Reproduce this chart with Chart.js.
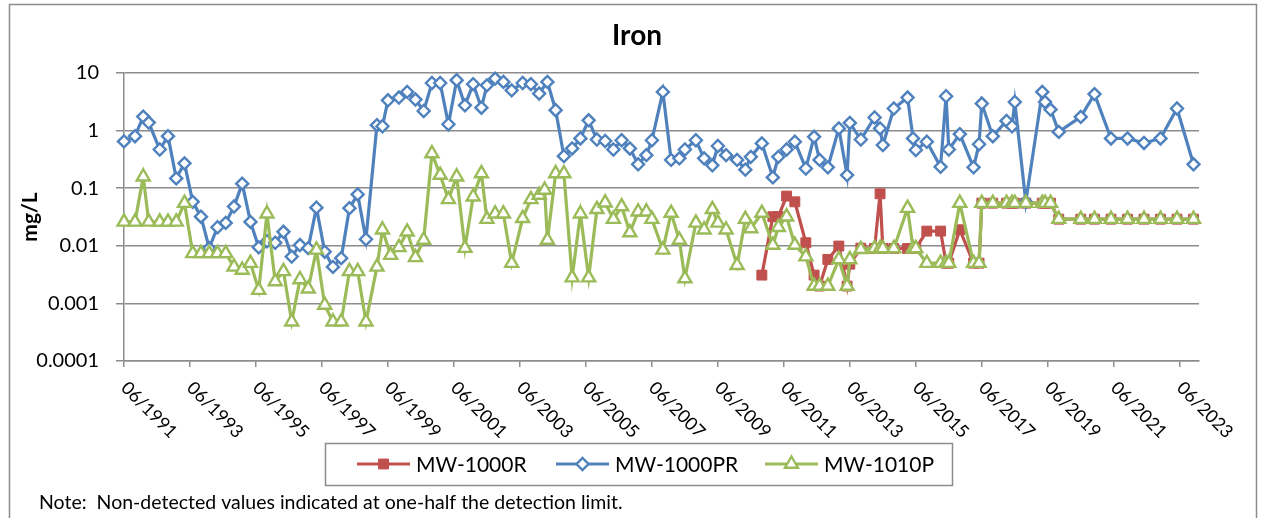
<!DOCTYPE html>
<html>
<head>
<meta charset="utf-8">
<title>Iron</title>
<script src="https://cdn.jsdelivr.net/npm/chart.js@4.4.1/dist/chart.umd.min.js"></script>
<style>
  html, body { margin: 0; padding: 0; background: #ffffff; overflow: hidden; }
  canvas { display: block; }
</style>
</head>
<body>
<canvas id="chart" width="1267" height="518"></canvas>
<script>
// ---- Text ----
const chartTitle = 'Iron';
const yAxisTitle = 'mg/L';
const noteText = 'Note:  Non-detected values indicated at one-half the detection limit.';
const seriesNames = ['MW-1000R', 'MW-1000PR', 'MW-1010P'];

// ---- Axis ticks ----
const yTickValues = [0.0001, 0.001, 0.01, 0.1, 1, 10];
const yTickLabels = ['0.0001', '0.001', '0.01', '0.1', '1', '10'];
const xTickYears = [1991, 1993, 1995, 1997, 1999, 2001, 2003, 2005, 2007, 2009, 2011, 2013, 2015, 2017, 2019, 2021, 2023];
const xTickLabels = ['06/1991', '06/1993', '06/1995', '06/1997', '06/1999', '06/2001', '06/2003', '06/2005', '06/2007',
  '06/2009', '06/2011', '06/2013', '06/2015', '06/2017', '06/2019', '06/2021', '06/2023'];

// ---- MW-1000R (mg/L) ----
const dates1000R = ['2010-10', '2011-02', '2011-04', '2011-07', '2011-10', '2012-02', '2012-05', '2012-07', '2012-10',
  '2013-02', '2013-05', '2013-06', '2013-10', '2014-03', '2014-05', '2014-06', '2014-10', '2015-03', '2015-05', '2015-06',
  '2015-10', '2016-03', '2016-05', '2016-06', '2016-10', '2017-03', '2017-05', '2017-06', '2017-10', '2018-03', '2018-05',
  '2018-06', '2018-10', '2019-04', '2019-05', '2019-07', '2019-10', '2020-06', '2020-11', '2021-05', '2021-11', '2022-05',
  '2022-11', '2023-05', '2023-11'];
const values1000R = [0.0031, 0.032, 0.032, 0.073, 0.058, 0.0113, 0.0031, 0.002, 0.0058,
  0.0099, 0.002, 0.0048, 0.0091, 0.009, 0.08, 0.009, 0.009, 0.009, 0.009, 0.009,
  0.018, 0.018, 0.005, 0.005, 0.019, 0.005, 0.005, 0.055, 0.055, 0.055, 0.055,
  0.055, 0.055, 0.055, 0.055, 0.055, 0.029, 0.029, 0.029, 0.029, 0.029, 0.029,
  0.029, 0.029, 0.029];

// ---- MW-1000PR (mg/L) ----
const dates1000PR = ['1991-06', '1991-10', '1992-01', '1992-03', '1992-07', '1992-10', '1993-01', '1993-04', '1993-07',
  '1993-10', '1994-01', '1994-04', '1994-07', '1994-10', '1995-01', '1995-04', '1995-07', '1995-10', '1996-01', '1996-04',
  '1996-07', '1996-10', '1997-01', '1997-04', '1997-07', '1997-10', '1998-01', '1998-04', '1998-07', '1998-10', '1999-02',
  '1999-04', '1999-06', '1999-10', '2000-01', '2000-04', '2000-07', '2000-10', '2001-01', '2001-04', '2001-07', '2001-10',
  '2002-01', '2002-04', '2002-06', '2002-09', '2002-12', '2003-03', '2003-07', '2003-10', '2004-01', '2004-04', '2004-07',
  '2004-10', '2005-01', '2005-04', '2005-07', '2005-10', '2006-01', '2006-04', '2006-07', '2006-10', '2007-01', '2007-04',
  '2007-06', '2007-10', '2008-01', '2008-04', '2008-06', '2008-10', '2009-01', '2009-04', '2009-06', '2009-09', '2010-01',
  '2010-04', '2010-06', '2010-10', '2011-02', '2011-04', '2011-07', '2011-10', '2012-02', '2012-05', '2012-07', '2012-10',
  '2013-02', '2013-05', '2013-06', '2013-10', '2014-03', '2014-05', '2014-06', '2014-10', '2015-03', '2015-05', '2015-06',
  '2015-10', '2016-03', '2016-05', '2016-06', '2016-10', '2017-03', '2017-05', '2017-06', '2017-10', '2018-03', '2018-05',
  '2018-06', '2018-10', '2019-04', '2019-05', '2019-07', '2019-10', '2020-06', '2020-11', '2021-05', '2021-11', '2022-05',
  '2022-11', '2023-05', '2023-11'];
const values1000PR = [0.65, 0.80, 1.75, 1.38, 0.47, 0.80, 0.148, 0.27, 0.058,
  0.032, 0.0091, 0.021, 0.025, 0.048, 0.12, 0.026, 0.0094, 0.012, 0.0113, 0.0175,
  0.0065, 0.0103, 0.0091, 0.046, 0.0079, 0.0043, 0.0061, 0.045, 0.078, 0.013, 1.24,
  1.19, 3.36, 3.75, 4.7, 3.46, 2.19, 6.7, 6.7, 1.29, 7.5, 2.75,
  6.4, 2.5, 6.1, 8.0, 7.0, 5.0, 6.7, 6.4, 4.4, 7.0, 2.26,
  0.36, 0.49, 0.73, 1.51, 0.70, 0.66, 0.47, 0.68, 0.49, 0.26, 0.375,
  0.68, 4.7, 0.31, 0.33, 0.47, 0.68, 0.33, 0.25, 0.54, 0.375, 0.31,
  0.21, 0.35, 0.60, 0.154, 0.35, 0.47, 0.64, 0.22, 0.78, 0.31, 0.23,
  1.09, 0.169, 1.36, 0.70, 1.69, 1.09, 0.56, 2.42, 3.75, 0.73, 0.46,
  0.64, 0.235, 3.95, 0.47, 0.87, 0.23, 0.58, 2.95, 0.80, 1.47, 1.19,
  3.14, 0.058, 4.7, 3.14, 2.32, 0.95, 1.73, 4.3, 0.73, 0.73, 0.61,
  0.73, 2.42, 0.26];

// ---- MW-1010P (mg/L) ----
const dates1010P = ['1991-06', '1991-10', '1992-01', '1992-03', '1992-07', '1992-10', '1993-01', '1993-04', '1993-07',
  '1993-10', '1994-01', '1994-04', '1994-07', '1994-10', '1995-01', '1995-04', '1995-07', '1995-10', '1996-01', '1996-04',
  '1996-07', '1996-10', '1997-01', '1997-04', '1997-07', '1997-10', '1998-01', '1998-04', '1998-07', '1998-10', '1999-02',
  '1999-04', '1999-07', '1999-10', '2000-01', '2000-04', '2000-07', '2000-10', '2001-01', '2001-04', '2001-07', '2001-10',
  '2002-01', '2002-04', '2002-06', '2002-09', '2002-12', '2003-03', '2003-07', '2003-10', '2004-01', '2004-03', '2004-04',
  '2004-07', '2004-10', '2005-01', '2005-04', '2005-07', '2005-10', '2006-01', '2006-04', '2006-07', '2006-10', '2007-01',
  '2007-04', '2007-06', '2007-10', '2008-01', '2008-04', '2008-06', '2008-10', '2009-01', '2009-04', '2009-06', '2009-09',
  '2010-01', '2010-04', '2010-06', '2010-10', '2011-02', '2011-04', '2011-07', '2011-10', '2012-02', '2012-05', '2012-07',
  '2012-10', '2013-02', '2013-05', '2013-06', '2013-10', '2014-03', '2014-05', '2014-06', '2014-10', '2015-03', '2015-05',
  '2015-06', '2015-10', '2016-03', '2016-05', '2016-06', '2016-10', '2017-03', '2017-05', '2017-06', '2017-10', '2018-03',
  '2018-05', '2018-06', '2018-10', '2019-04', '2019-05', '2019-07', '2019-10', '2020-06', '2020-11', '2021-05', '2021-11',
  '2022-05', '2022-11', '2023-05', '2023-11'];
const values1010P = [0.026, 0.026, 0.158, 0.026, 0.026, 0.026, 0.026, 0.055, 0.0074,
  0.0074, 0.0074, 0.0074, 0.0074, 0.0043, 0.0038, 0.005, 0.0017, 0.036, 0.0024, 0.0036,
  0.00048, 0.0026, 0.0018, 0.0085, 0.00094, 0.00048, 0.00048, 0.0036, 0.0036, 0.00048, 0.0043,
  0.019, 0.0069, 0.0094, 0.0175, 0.0063, 0.0126, 0.40, 0.169, 0.064, 0.158, 0.0091,
  0.071, 0.18, 0.029, 0.036, 0.036, 0.005, 0.030, 0.064, 0.076, 0.093, 0.0126,
  0.18, 0.18, 0.0028, 0.036, 0.0028, 0.043, 0.056, 0.029, 0.048, 0.017, 0.039,
  0.039, 0.029, 0.0085, 0.037, 0.0126, 0.0027, 0.025, 0.019, 0.043, 0.025, 0.019,
  0.0046, 0.029, 0.020, 0.037, 0.0103, 0.021, 0.032, 0.0103, 0.0065, 0.002, 0.002,
  0.002, 0.0058, 0.002, 0.0058, 0.0087, 0.009, 0.009, 0.009, 0.009, 0.045, 0.009,
  0.009, 0.005, 0.005, 0.005, 0.005, 0.055, 0.005, 0.005, 0.055, 0.055, 0.055,
  0.055, 0.055, 0.055, 0.055, 0.055, 0.055, 0.029, 0.029, 0.029, 0.029, 0.029,
  0.029, 0.029, 0.029, 0.029];

// ---- Helpers ----
// "YYYY-MM" -> decimal year (start of month)
function toYear(s) {
  const [yr, mo] = s.split('-').map(Number);
  return yr + (mo - 1) / 12;
}
function toPoints(dates, values) {
  return dates.map((d, i) => ({ x: toYear(d), y: values[i] }));
}

const FONT = 'Lato, "Open Sans", "DejaVu Sans", sans-serif';
const AXIS_GRAY = '#8c8c8c';
const RED = '#C0504D', BLUE = '#4F81BD', GREEN = '#9BBB59';

// Frame, title, rotated date labels, legend and footnote
const decorations = {
  id: 'decorations',
  beforeDraw(chart) {
    const ctx = chart.ctx;
    ctx.save();
    ctx.fillStyle = '#ffffff';
    ctx.fillRect(0, 0, chart.width, chart.height);
    ctx.strokeStyle = AXIS_GRAY;
    ctx.lineWidth = 1.5;
    ctx.strokeRect(9.5, 4.5, 1247, 600);
    ctx.restore();
  },
  afterDraw(chart) {
    const ctx = chart.ctx;
    const xs = chart.scales.x, ys = chart.scales.y;
    ctx.save();
    ctx.fillStyle = '#000000';

    // Title
    ctx.font = 'bold 28px ' + FONT;
    ctx.textAlign = 'center';
    ctx.textBaseline = 'alphabetic';
    ctx.fillText(chartTitle, 637, 45);

    // Y axis title
    ctx.save();
    ctx.translate(30, 217);
    ctx.rotate(-Math.PI / 2);
    ctx.font = 'bold 21px ' + FONT;
    ctx.textAlign = 'center';
    ctx.textBaseline = 'middle';
    ctx.fillText(yAxisTitle, 0, 0);
    ctx.restore();

    // X tick labels, rotated down-right
    ctx.font = '18px ' + FONT;
    ctx.textAlign = 'left';
    ctx.textBaseline = 'middle';
    xs.ticks.forEach((t, i) => {
      const px = xs.getPixelForValue(t.value);
      ctx.save();
      ctx.translate(px, ys.bottom + 24);
      ctx.rotate(Math.PI / 4);
      ctx.fillText(xTickLabels[i], 0, 0);
      ctx.restore();
    });

    // Legend box
    ctx.strokeStyle = AXIS_GRAY;
    ctx.lineWidth = 1.5;
    ctx.strokeRect(325.5, 443.5, 627, 42);
    const legendX = [357, 556, 765];
    const legendY = 464;
    ctx.font = '21px ' + FONT;
    ctx.textAlign = 'left';
    ctx.textBaseline = 'middle';
    chart.data.datasets.forEach((ds, i) => {
      const lx = legendX[i];
      ctx.strokeStyle = ds.borderColor;
      ctx.lineWidth = ds.borderWidth;
      ctx.beginPath();
      ctx.moveTo(lx, legendY);
      ctx.lineTo(lx + 53, legendY);
      ctx.stroke();
      ctx.fillStyle = ds.pointBackgroundColor;
      ctx.strokeStyle = ds.pointBorderColor;
      ctx.lineWidth = ds.pointBorderWidth;
      Chart.helpers.drawPoint(ctx, {
        pointStyle: ds.pointStyle, radius: ds.pointRadius, rotation: 0, borderWidth: ds.pointBorderWidth
      }, lx + 26.5, legendY);
      ctx.fillStyle = '#000000';
      ctx.fillText(ds.label, lx + 59, legendY + 1);
    });

    // Footnote
    ctx.font = '19.5px ' + FONT;
    ctx.textAlign = 'left';
    ctx.textBaseline = 'alphabetic';
    ctx.fillStyle = '#000000';
    ctx.fillText(noteText, 39, 509);
    ctx.restore();
  }
};

const lineStyle = {
  showLine: true,
  borderWidth: 3.2,
  tension: 0,
  pointBorderWidth: 2.4,
  pointHoverRadius: 0,
  clip: false
};

new Chart(document.getElementById('chart'), {
  type: 'line',
  data: {
    datasets: [
      Object.assign({}, lineStyle, {
        label: seriesNames[0],
        data: toPoints(dates1000R, values1000R),
        borderColor: RED,
        pointStyle: 'rect',
        pointRadius: 7,
        pointBackgroundColor: RED,
        pointBorderColor: RED,
        pointBorderWidth: 1,
        order: 3
      }),
      Object.assign({}, lineStyle, {
        label: seriesNames[1],
        data: toPoints(dates1000PR, values1000PR),
        borderColor: BLUE,
        pointStyle: 'rectRot',
        pointRadius: 6,
        pointBackgroundColor: '#ffffff',
        pointBorderColor: BLUE,
        order: 2
      }),
      Object.assign({}, lineStyle, {
        label: seriesNames[2],
        data: toPoints(dates1010P, values1010P),
        borderColor: GREEN,
        pointStyle: 'triangle',
        pointRadius: 7.5,
        pointBackgroundColor: '#ffffff',
        pointBorderColor: GREEN,
        order: 1
      })
    ]
  },
  options: {
    responsive: false,
    animation: false,
    devicePixelRatio: 1,
    events: [],
    layout: { padding: { left: 0, right: 68, top: 73, bottom: 0 } },
    plugins: {
      legend: { display: false },
      title: { display: false },
      tooltip: { enabled: false }
    },
    scales: {
      x: {
        type: 'linear',
        min: toYear('1991-06'),
        max: 2024.0,
        afterBuildTicks(scale) {
          scale.ticks = xTickYears.map(yr => ({ value: toYear(yr + '-06') }));
        },
        afterFit(scale) { scale.height = 157; },
        ticks: { display: false },
        grid: {
          drawOnChartArea: false,
          drawTicks: true,
          tickLength: 6,
          color: AXIS_GRAY,
          lineWidth: 1.5
        },
        border: { display: true, color: AXIS_GRAY, width: 1.5 }
      },
      y: {
        type: 'logarithmic',
        min: 0.0001,
        max: 10,
        afterBuildTicks(scale) {
          scale.ticks = yTickValues.map(v => ({ value: v }));
        },
        afterFit(scale) { scale.width = 124; },
        ticks: {
          padding: 17,
          color: '#000000',
          font: { family: FONT, size: 20 },
          callback(value) {
            const i = yTickValues.findIndex(v => Math.abs(v - value) / v < 1e-6);
            return i >= 0 ? yTickLabels[i] : '';
          }
        },
        grid: {
          drawTicks: true,
          tickLength: 8,
          color: AXIS_GRAY,
          lineWidth: 1.5
        },
        border: { display: true, color: AXIS_GRAY, width: 1.5 }
      }
    }
  },
  plugins: [decorations]
});
</script>
</body>
</html>
